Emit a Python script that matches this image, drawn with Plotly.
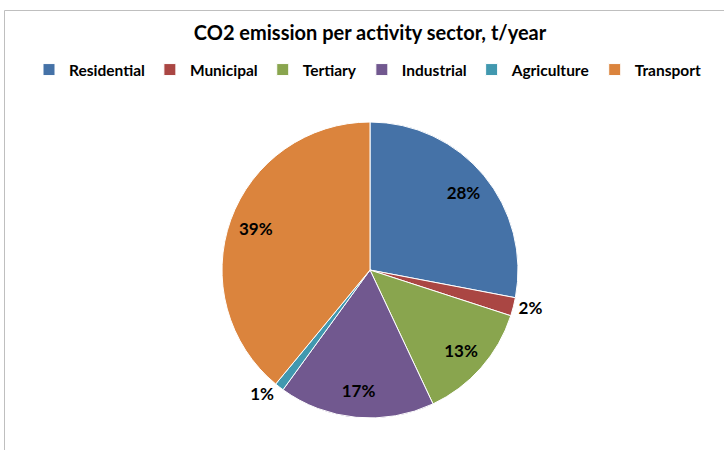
import plotly.graph_objects as go

# CO2 emission share per activity sector
sectors = ["Residential", "Municipal", "Tertiary", "Industrial", "Agriculture", "Transport"]
shares = [28, 2, 13, 17, 1, 39]
colors = ["#4572A7", "#AA4643", "#89A54E", "#71588F", "#4198AF", "#DB843D"]
text_positions = ["inside", "outside", "inside", "inside", "outside", "inside"]

W, H = 724, 450
cx, cy, r = 370, 270, 148
pie_domain = dict(x=[(cx - r) / W, (cx + r) / W], y=[(H - cy - r) / H, (H - cy + r) / H])
label_font = dict(family="Lato", size=17, color="black", weight="bold")

fig = go.Figure()

# Filled slices
fig.add_trace(
    go.Pie(
        labels=sectors,
        values=shares,
        sort=False,
        direction="clockwise",
        rotation=0,
        marker=dict(colors=colors, line=dict(color="white", width=1)),
        textinfo="none",
        domain=pie_domain,
        hoverinfo="label+percent",
    )
)

# Transparent ring on top: places the percentage labels near the rim
fig.add_trace(
    go.Pie(
        labels=sectors,
        values=shares,
        sort=False,
        direction="clockwise",
        rotation=0,
        hole=0.64,
        marker=dict(colors=["rgba(0,0,0,0)"] * len(sectors), line=dict(width=0)),
        texttemplate="%{percent:.0%}",
        textposition=text_positions,
        insidetextorientation="horizontal",
        textfont=label_font,
        domain=pie_domain,
        showlegend=False,
        hoverinfo="skip",
    )
)

fig.update_layout(
    width=W,
    height=H,
    margin=dict(l=0, r=0, t=0, b=0),
    paper_bgcolor="white",
    title=dict(
        text="<b>CO2 emission per activity sector, t/year</b>",
        x=370 / W,
        xanchor="center",
        y=1 - 33 / H,
        yanchor="middle",
        font=dict(family="Lato", size=20, color="black"),
    ),
    legend=dict(
        orientation="h",
        x=368 / W,
        xanchor="center",
        y=1 - 70 / H,
        yanchor="middle",
        font=dict(family="Lato", size=15.5, color="black", weight="bold"),
        itemwidth=30,
        traceorder="normal",
    ),
    shapes=[
        dict(
            type="rect",
            xref="paper",
            yref="paper",
            x0=4.5 / W,
            x1=1.02,
            y0=-0.05,
            y1=1 - 10.5 / H,
            line=dict(color="#BFBFBF", width=1),
        )
    ],
)

fig.write_html("out.html")
